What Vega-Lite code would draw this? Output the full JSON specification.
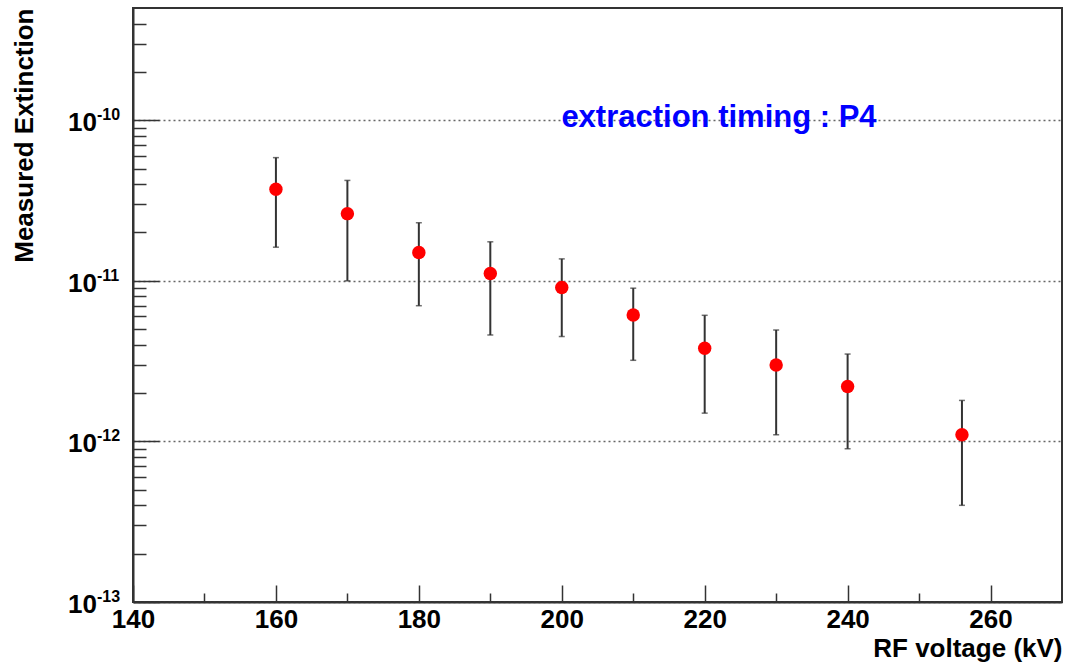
{
  "$schema": "https://vega.github.io/schema/vega-lite/v6.json",
  "width": 929,
  "height": 594,
  "autosize": {"type": "none"},
  "padding": {"left": 133, "top": 8, "right": 3, "bottom": 61},
  "background": "white",
  "config": {
    "view": {"stroke": "#333333", "strokeWidth": 2},
    "font": "Liberation Sans"
  },
  "datasets": {
    "points": [
      {"kv": 160, "val": 3.72e-11, "lo": 1.62e-11, "hi": 5.85e-11},
      {"kv": 170, "val": 2.62e-11, "lo": 1.0e-11, "hi": 4.22e-11},
      {"kv": 180, "val": 1.50e-11, "lo": 7.0e-12, "hi": 2.30e-11},
      {"kv": 190, "val": 1.11e-11, "lo": 4.6e-12, "hi": 1.75e-11},
      {"kv": 200, "val": 9.08e-12, "lo": 4.5e-12, "hi": 1.37e-11},
      {"kv": 210, "val": 6.13e-12, "lo": 3.2e-12, "hi": 9.0e-12},
      {"kv": 220, "val": 3.8e-12, "lo": 1.5e-12, "hi": 6.1e-12},
      {"kv": 230, "val": 2.99e-12, "lo": 1.1e-12, "hi": 4.94e-12},
      {"kv": 240, "val": 2.2e-12, "lo": 9.0e-13, "hi": 3.5e-12},
      {"kv": 256, "val": 1.1e-12, "lo": 4.0e-13, "hi": 1.8e-12}
    ],
    "decades": [
      {"v": 1e-13, "e": "-13"},
      {"v": 1e-12, "e": "-12"},
      {"v": 1e-11, "e": "-11"},
      {"v": 1e-10, "e": "-10"}
    ],
    "note": [{"kv": 222, "val": 1.04e-10, "t": "extraction timing : P4"}]
  },
  "layer": [
    {
      "data": {"name": "points"},
      "mark": {"type": "rule", "color": "#333333", "strokeWidth": 2},
      "encoding": {
        "x": {
          "field": "kv",
          "type": "quantitative",
          "scale": {"domain": [140, 270], "nice": false, "zero": false},
          "axis": {
            "values": [140, 145, 150, 155, 160, 165, 170, 175, 180, 185, 190, 195, 200, 205, 210, 215, 220, 225, 230, 235, 240, 245, 250, 255, 260, 265],
            "labelExpr": "datum.value % 20 == 0 ? datum.label : ''",
            "labelFont": "Liberation Sans",
            "labelFontSize": 26,
            "labelFontWeight": "bold",
            "labelColor": "black",
            "labelPadding": 21,
            "labelFlush": false,
            "labelOverlap": false,
            "tickSize": {"condition": {"test": "datum.value % 20 == 0", "value": -17}, "value": -9},
            "tickColor": "#333333",
            "tickWidth": 1.5,
            "domainColor": "#333333",
            "domainWidth": 2,
            "grid": false,
            "title": "RF voltage (kV)",
            "titleAnchor": "end",
            "titleFont": "Liberation Sans",
            "titleFontSize": 26,
            "titleFontWeight": "bold",
            "titleColor": "black",
            "titlePadding": -5
          }
        },
        "y": {
          "field": "lo",
          "type": "quantitative",
          "scale": {"type": "log", "domain": [1e-13, 5e-10], "nice": false},
          "axis": {
            "values": [1e-13, 2e-13, 3e-13, 4e-13, 5e-13, 6e-13, 7e-13, 8e-13, 9e-13, 1e-12, 2e-12, 3e-12, 4e-12, 5e-12, 6e-12, 7e-12, 8e-12, 9e-12, 1e-11, 2e-11, 3e-11, 4e-11, 5e-11, 6e-11, 7e-11, 8e-11, 9e-11, 1e-10, 2e-10, 3e-10, 4e-10],
            "labels": false,
            "tickSize": {"condition": {"test": "abs(log(datum.value)/LN10 - round(log(datum.value)/LN10)) < 0.001", "value": -26}, "value": -13},
            "tickColor": "#333333",
            "tickWidth": 1.5,
            "domainColor": "#333333",
            "domainWidth": 2,
            "grid": true,
            "gridColor": "#666666",
            "gridDash": [2, 3],
            "gridWidth": 1.5,
            "gridOpacity": {"condition": {"test": "abs(log(datum.value)/LN10 - round(log(datum.value)/LN10)) < 0.001", "value": 1}, "value": 0},
            "title": "Measured Extinction",
            "titleAnchor": "end",
            "titleFont": "Liberation Sans",
            "titleFontSize": 26,
            "titleFontWeight": "bold",
            "titleColor": "black",
            "titlePadding": 95
          }
        },
        "y2": {"field": "hi"}
      }
    },
    {
      "data": {"name": "points"},
      "mark": {"type": "tick", "orient": "horizontal", "color": "#333333", "size": 6, "thickness": 1.5},
      "encoding": {
        "x": {"field": "kv", "type": "quantitative"},
        "y": {"field": "lo", "type": "quantitative"}
      }
    },
    {
      "data": {"name": "points"},
      "mark": {"type": "tick", "orient": "horizontal", "color": "#333333", "size": 6, "thickness": 1.5},
      "encoding": {
        "x": {"field": "kv", "type": "quantitative"},
        "y": {"field": "hi", "type": "quantitative"}
      }
    },
    {
      "data": {"name": "points"},
      "mark": {"type": "point", "shape": "circle", "filled": true, "color": "#ff0000", "size": 180, "opacity": 1},
      "encoding": {
        "x": {"field": "kv", "type": "quantitative"},
        "y": {"field": "val", "type": "quantitative"}
      }
    },
    {
      "data": {"name": "decades"},
      "mark": {"type": "text", "align": "right", "baseline": "middle", "dx": -36, "dy": 3, "font": "Liberation Sans", "fontSize": 26, "fontWeight": "bold", "color": "black", "clip": false},
      "encoding": {
        "x": {"datum": 140, "type": "quantitative"},
        "y": {"field": "v", "type": "quantitative"},
        "text": {"value": "10"}
      }
    },
    {
      "data": {"name": "decades"},
      "mark": {"type": "text", "align": "left", "baseline": "top", "dx": -36, "dy": -13, "font": "Liberation Sans", "fontSize": 16, "fontWeight": "bold", "color": "black", "clip": false},
      "encoding": {
        "x": {"datum": 140, "type": "quantitative"},
        "y": {"field": "v", "type": "quantitative"},
        "text": {"field": "e"}
      }
    },
    {
      "data": {"name": "note"},
      "mark": {"type": "text", "align": "center", "baseline": "middle", "font": "Liberation Sans", "fontSize": 31, "fontWeight": "bold", "color": "#0000ff"},
      "encoding": {
        "x": {"field": "kv", "type": "quantitative"},
        "y": {"field": "val", "type": "quantitative"},
        "text": {"field": "t"}
      }
    }
  ]
}
